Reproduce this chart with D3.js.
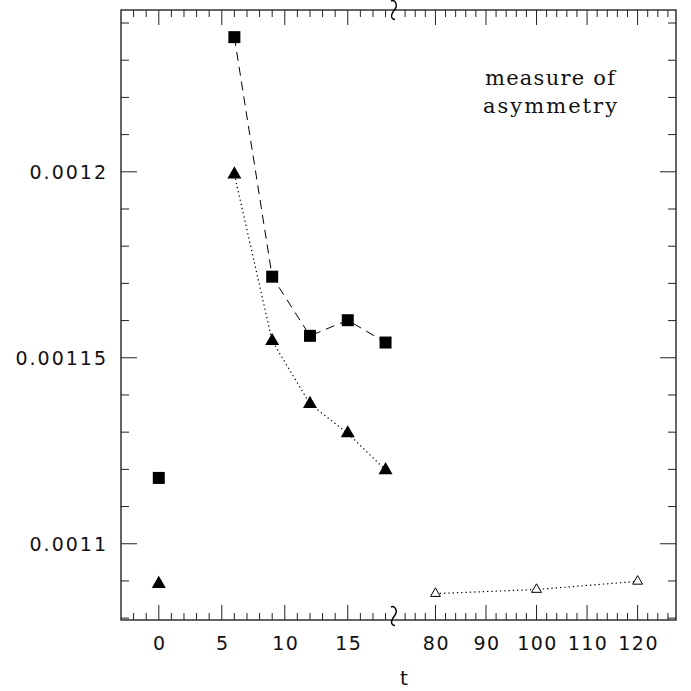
<!DOCTYPE html>
<html>
<head>
<meta charset="utf-8">
<script src="https://cdn.jsdelivr.net/npm/d3@7"></script>
<style>
  body { margin: 0; background: #fff; }
  svg text { fill: #111; }
</style>
</head>
<body>
<div id="chart"></div>
<script>
// values
const tEarly = [0, 6, 9, 12, 15, 18];
const squareVals = [0.0011177, 0.0012362, 0.0011718, 0.0011559, 0.0011601, 0.0011541];
const triVals = [0.0010892, 0.0011993, 0.0011545, 0.0011376, 0.0011297, 0.0011198];
const tLate = [80, 100, 120];
const openTriVals = [0.0010866, 0.0010877, 0.0010899];

const xTicksLeft = [0, 5, 10, 15];
const xTicksRight = [80, 90, 100, 110, 120];
const yTicks = [0.0011, 0.00115, 0.0012];
const yTickLabels = ["0.0011", "0.00115", "0.0012"];

const width = 691, height = 691;
const plotLeft = 121, plotRight = 676, plotTop = 10, plotBottom = 620, brk = 394;

const svg = d3.select("#chart").append("svg")
    .attr("width", width)
    .attr("height", height);

const xL = d3.scaleLinear().domain([-3, 18.67]).range([plotLeft, brk]);
const xR = d3.scaleLinear().domain([71.8, 127.6]).range([brk, plotRight]);
const y = d3.scaleLinear().domain([0.0010795, 0.0012435]).range([plotBottom, plotTop]);

const font = "'DejaVu Sans', sans-serif";

// frame
svg.append("rect")
    .attr("x", plotLeft).attr("y", plotTop)
    .attr("width", plotRight - plotLeft).attr("height", plotBottom - plotTop)
    .attr("fill", "none").attr("stroke", "#000").attr("stroke-width", 1.2);

const ticks = svg.append("g").attr("stroke", "#222").attr("stroke-width", 1);

// x ticks, top and bottom
function xTickSet(scale, minors, majors) {
    minors.forEach(v => {
        const px = scale(v);
        const len = majors.includes(v) ? 15 : 7;
        ticks.append("line").attr("x1", px).attr("x2", px).attr("y1", plotBottom).attr("y2", plotBottom - len);
        ticks.append("line").attr("x1", px).attr("x2", px).attr("y1", plotTop).attr("y2", plotTop + len);
    });
}
xTickSet(xL, d3.range(-2, 19, 1), xTicksLeft);
xTickSet(xR, d3.range(74, 127, 2), xTicksRight);

// y ticks, left and right
d3.range(0, 17).map(i => 0.00108 + i * 0.00001).forEach(v => {
    const py = y(v);
    const major = yTicks.some(t => Math.abs(t - v) < 1e-9);
    const len = major ? 16 : 8;
    ticks.append("line").attr("x1", plotLeft).attr("x2", plotLeft + len).attr("y1", py).attr("y2", py);
    ticks.append("line").attr("x1", plotRight).attr("x2", plotRight - len).attr("y1", py).attr("y2", py);
});

// axis break marks
[plotTop, plotBottom - 4].forEach(yy => {
    svg.append("path")
        .attr("d", `M${brk - 3},${yy - 9} C${brk + 1},${yy - 11} ${brk + 4},${yy - 5} ${brk + 1},${yy - 1} C${brk - 2},${yy + 3} ${brk - 4},${yy + 7} ${brk - 1},${yy + 9} L${brk + 1},${yy + 9.5}`)
        .attr("fill", "none").attr("stroke", "#000").attr("stroke-width", 1.4);
});

// tick labels
svg.append("g").selectAll("text")
    .data(yTicks)
    .join("text")
    .attr("x", 108)
    .attr("y", d => y(d) + 7)
    .attr("text-anchor", "end")
    .attr("font-family", font)
    .attr("font-size", 19)
    .attr("letter-spacing", 2)
    .text((d, i) => yTickLabels[i]);

svg.append("g").selectAll("text")
    .data(xTicksLeft.map(v => ({ v, px: xL(v) })).concat(xTicksRight.map(v => ({ v, px: xR(v) }))))
    .join("text")
    .attr("x", d => d.px + 1)
    .attr("y", 650)
    .attr("text-anchor", "middle")
    .attr("font-family", font)
    .attr("font-size", 19)
    .attr("letter-spacing", 1.5)
    .text(d => d.v);

svg.append("text")
    .attr("x", 404).attr("y", 685)
    .attr("text-anchor", "middle")
    .attr("font-family", font)
    .attr("font-size", 20)
    .text("t");

// annotation
const serif = "'DejaVu Serif', serif";
svg.append("text")
    .attr("x", 485).attr("y", 85)
    .attr("font-family", serif).attr("font-size", 21)
    .attr("textLength", 130).attr("lengthAdjust", "spacing")
    .text("measure of");
svg.append("text")
    .attr("x", 483).attr("y", 113)
    .attr("font-family", serif).attr("font-size", 21)
    .attr("textLength", 134).attr("lengthAdjust", "spacing")
    .text("asymmetry");

// connecting lines
const lineL = d3.line().x(d => xL(d[0])).y(d => y(d[1]));
const lineR = d3.line().x(d => xR(d[0])).y(d => y(d[1]));

const sqPts = tEarly.map((t, i) => [t, squareVals[i]]);
const trPts = tEarly.map((t, i) => [t, triVals[i]]);
const openPts = tLate.map((t, i) => [t, openTriVals[i]]);

svg.append("path")
    .attr("d", lineL(sqPts.slice(1)))
    .attr("fill", "none").attr("stroke", "#000").attr("stroke-width", 1)
    .attr("stroke-dasharray", "9,6");

svg.append("path")
    .attr("d", lineL(trPts.slice(1)))
    .attr("fill", "none").attr("stroke", "#000").attr("stroke-width", 1.2)
    .attr("stroke-dasharray", "1.3,3");

svg.append("path")
    .attr("d", lineR(openPts))
    .attr("fill", "none").attr("stroke", "#000").attr("stroke-width", 1.2)
    .attr("stroke-dasharray", "1.3,3");

// markers
const sqSym = d3.symbol().type(d3.symbolSquare).size(144);
const trSym = d3.symbol().type(d3.symbolTriangle).size(85);
const openSym = d3.symbol().type(d3.symbolTriangle).size(42);

svg.append("g").selectAll("path")
    .data(sqPts)
    .join("path")
    .attr("d", sqSym)
    .attr("transform", d => `translate(${xL(d[0])},${y(d[1])})`)
    .attr("fill", "#000");

svg.append("g").selectAll("path")
    .data(trPts)
    .join("path")
    .attr("d", trSym)
    .attr("transform", d => `translate(${xL(d[0])},${y(d[1])})`)
    .attr("fill", "#000");

svg.append("g").selectAll("path")
    .data(openPts)
    .join("path")
    .attr("d", openSym)
    .attr("transform", d => `translate(${xR(d[0])},${y(d[1])})`)
    .attr("fill", "#fff")
    .attr("stroke", "#000")
    .attr("stroke-width", 1);
</script>
</body>
</html>
